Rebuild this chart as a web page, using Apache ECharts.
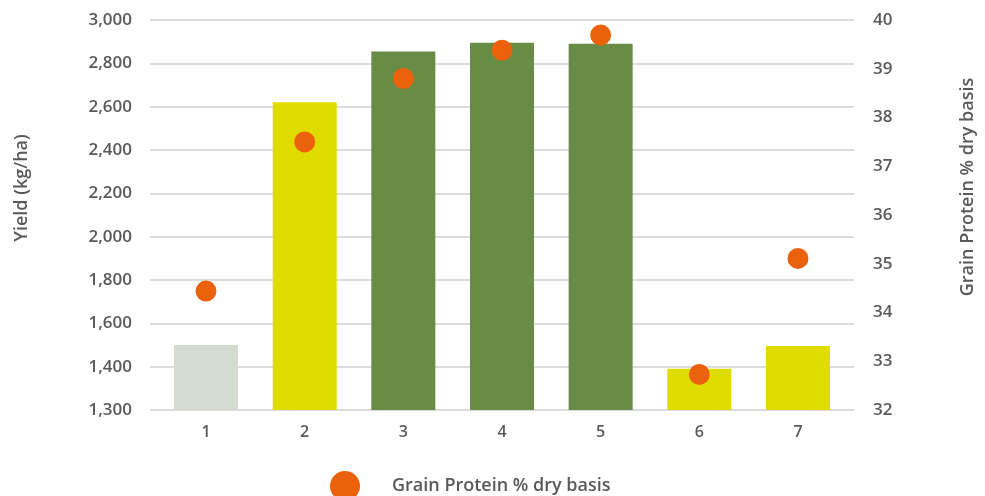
<!DOCTYPE html>
<html>
<head>
<meta charset="utf-8">
<script src="https://cdn.jsdelivr.net/npm/echarts@6/dist/echarts.min.js"></script>
<style>html,body{margin:0;padding:0;background:#fff}#c{width:985px;height:496px}</style>
</head>
<body>
<div id="c"></div>
<script>
const categories = ['1','2','3','4','5','6','7'];
const yieldValues = [1500, 2620, 2855, 2895, 2890, 1390, 1495];
const proteinValues = [34.44, 37.50, 38.80, 39.38, 39.69, 32.73, 35.11];
const yieldTickLabels = ['1,300','1,400','1,600','1,800','2,000','2,200','2,400','2,600','2,800','3,000'];
const proteinTickLabels = ['32','33','34','35','36','37','38','39','40'];

const barPalette = ['#d4dbd0','#e0dc00','#688b46','#688b46','#688b46','#e0dc00','#e0dc00'];
const textColor = '#595959';
const font = '"Open Sans"';

const chart = echarts.init(document.getElementById('c'), null, {renderer:'canvas'});
const gridTop = 20, gridBottom = 86;
chart.setOption({
  animation: false,
  grid: [
    {left: 150, right: 130, top: gridTop, bottom: gridBottom},
    {left: 156.7, right: 137.7, top: gridTop, bottom: gridBottom}
  ],
  xAxis: [
    {type: 'category', gridIndex: 0, data: categories, show: false},
    {type: 'category', gridIndex: 1, data: categories,
     axisLine: {show: false}, axisTick: {show: false},
     axisLabel: {color: textColor, fontFamily: font, fontSize: 16, fontWeight: 600, margin: 14}}
  ],
  yAxis: [
    {type: 'value', gridIndex: 0, min: 1200, max: 3000, interval: 200, position: 'left',
     name: 'Yield (kg/ha)', nameLocation: 'middle', nameRotate: 90, nameGap: 119,
     nameTextStyle: {color: textColor, fontFamily: font, fontSize: 18, fontWeight: 600, padding: [0,0,0,54]},
     axisLine: {show: false}, axisTick: {show: false},
     splitLine: {lineStyle: {color: '#d0d0d0', width: 1.5}},
     axisLabel: {color: textColor, fontFamily: font, fontSize: 17, fontWeight: 600, margin: 18,
       formatter: v => yieldTickLabels[Math.round((v - 1200) / 200)]}},
    {type: 'value', gridIndex: 0, min: 32, max: 40, interval: 1, position: 'right',
     name: 'Grain Protein % dry basis', nameLocation: 'middle', nameRotate: 90, nameGap: 105,
     nameTextStyle: {color: textColor, fontFamily: font, fontSize: 18, fontWeight: 600, padding: [0,0,0,56]},
     axisLine: {show: false}, axisTick: {show: false}, splitLine: {show: false},
     axisLabel: {color: textColor, fontFamily: font, fontSize: 17, fontWeight: 600, margin: 19,
       formatter: v => proteinTickLabels[Math.round(v - 32)]}},
    {type: 'value', gridIndex: 1, min: 1200, max: 3000, show: false},
    {type: 'value', gridIndex: 1, min: 32, max: 40, show: false}
  ],
  legend: {
    left: 325, top: 466, itemWidth: 30, itemHeight: 30, icon: 'circle',
    data: ['Grain Protein % dry basis'],
    textStyle: {color: textColor, fontFamily: font, fontSize: 18, fontWeight: 600, padding: [0,0,0,27]}
  },
  series: [
    {type: 'bar', name: 'Yield (kg/ha)', xAxisIndex: 1, yAxisIndex: 2, data: yieldValues, barWidth: 64,
     itemStyle: {color: p => barPalette[p.dataIndex]}},
    {type: 'scatter', name: 'Grain Protein % dry basis', xAxisIndex: 1, yAxisIndex: 3, data: proteinValues,
     symbolSize: 21, itemStyle: {color: '#ec610c', opacity: 1}}
  ]
});
</script>
</body>
</html>
